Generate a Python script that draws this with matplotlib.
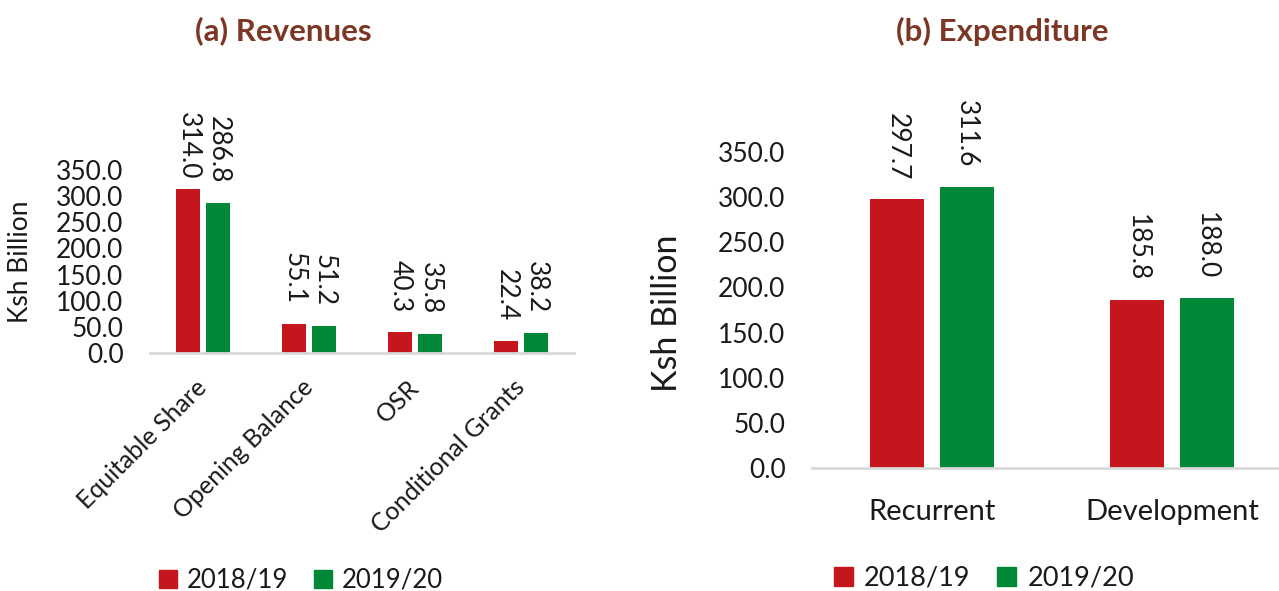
import matplotlib
matplotlib.use("Agg")
import matplotlib.pyplot as plt
from matplotlib.patches import Patch
import numpy as np

plt.rcParams['font.family'] = ['Lato', 'DejaVu Sans']

rev_categories = ["Equitable Share", "Opening Balance", "OSR", "Conditional Grants"]
rev_2018 = [314.0, 55.1, 40.3, 22.4]
rev_2019 = [286.8, 51.2, 35.8, 38.2]

exp_categories = ["Recurrent", "Development"]
exp_2018 = [297.7, 185.8]
exp_2019 = [311.6, 188.0]

series_names = ["2018/19", "2019/20"]
yticks = [0, 50, 100, 150, 200, 250, 300, 350]

RED = "#C4161C"
GREEN = "#008837"
TITLE = "#7B3626"
TXT = "#1a1a1a"
GRID = "#D9D9D9"

W, H = 1279, 591
fig = plt.figure(figsize=(W / 100, H / 100), dpi=100)


def px_axes(l, t, r, b):
    return fig.add_axes([l / W, 1 - b / H, (r - l) / W, (b - t) / H])


def style(ax, ylabel, ysize):
    for s in ["top", "right", "left"]:
        ax.spines[s].set_visible(False)
    ax.spines["bottom"].set_color(GRID)
    ax.spines["bottom"].set_linewidth(2)
    ax.set_ylim(0, 350)
    ax.set_yticks(yticks)
    ax.set_yticklabels([f"{v:.1f}" for v in yticks])
    ax.tick_params(axis="y", length=0, pad=19, labelsize=19, labelcolor=TXT)
    ax.tick_params(axis="x", length=0, labelcolor=TXT)
    ax.set_ylabel(ylabel, fontsize=ysize, color=TXT)


def labels(ax, xs, vals, gap_px, top_limit_px):
    for x, v in zip(xs, vals):
        disp = ax.transData.transform((x, v))
        bottom_px = H - disp[1] - gap_px  # image coords (from top)
        length = 67
        if bottom_px - length < top_limit_px:
            bottom_px = top_limit_px + length
        fig.text(disp[0] / W, 1 - bottom_px / H, f"{v:.1f}", rotation=-90,
                 ha="center", va="bottom", fontsize=19, color=TXT)


# ---- (a) Revenues
ax1 = px_axes(150, 170, 574, 353)
x1 = np.arange(len(rev_categories))
w1 = 0.226
off1 = 0.1415
ax1.bar(x1 - off1, rev_2018, w1, color=RED)
ax1.bar(x1 + off1, rev_2019, w1, color=GREEN)
ax1.set_xlim(-0.5, len(rev_categories) - 0.5)
style(ax1, "Ksh Billion", 19)
ax1.set_xticks(x1)
ax1.set_xticklabels(rev_categories, rotation=45, ha="right", va="center",
                    rotation_mode="anchor", fontsize=18)
ax1.tick_params(axis="x", pad=22)
ax1.yaxis.set_label_coords((33 - 150) / 424, 0.5)
labels(ax1, x1 - off1, rev_2018, 20, 113)
labels(ax1, x1 + off1, rev_2019, 20, 113)

# ---- (b) Expenditure
ax2 = px_axes(812, 152, 1292, 468)
x2 = np.arange(len(exp_categories))
w2 = 0.225
off2 = 0.144
ax2.bar(x2 - off2, exp_2018, w2, color=RED)
ax2.bar(x2 + off2, exp_2019, w2, color=GREEN)
ax2.set_xlim(-0.5, len(exp_categories) - 0.5)
style(ax2, "Ksh Billion", 24.5)
ax2.set_xticks(x2)
ax2.set_xticklabels(exp_categories, fontsize=21)
ax2.tick_params(axis="x", pad=22)
ax2.yaxis.set_label_coords((683 - 812) / 480, 0.49)
labels(ax2, x2 - off2, exp_2018, 19, 95)
labels(ax2, x2 + off2, exp_2019, 19, 95)

# Titles
fig.text(283 / W, 1 - 31 / H, "(a) Revenues", ha="center", va="center",
         fontsize=22.5, fontweight="bold", color=TITLE)
fig.text(1002 / W, 1 - 31 / H, "(b) Expenditure", ha="center", va="center",
         fontsize=22.5, fontweight="bold", color=TITLE)

# Legends
handles = [Patch(color=RED), Patch(color=GREEN)]
fig.legend(handles, series_names, loc="center", bbox_to_anchor=(301 / W, 1 - 580 / H),
           ncol=2, frameon=False, fontsize=18.5, handlelength=0.7, handleheight=0.7,
           handletextpad=0.4, columnspacing=1.0, labelcolor=TXT)
fig.legend(handles, series_names, loc="center", bbox_to_anchor=(984 / W, 1 - 578 / H),
           ncol=2, frameon=False, fontsize=19.5, handlelength=0.7, handleheight=0.7,
           handletextpad=0.4, columnspacing=1.0, labelcolor=TXT)

fig.savefig("out.png", dpi=100)
